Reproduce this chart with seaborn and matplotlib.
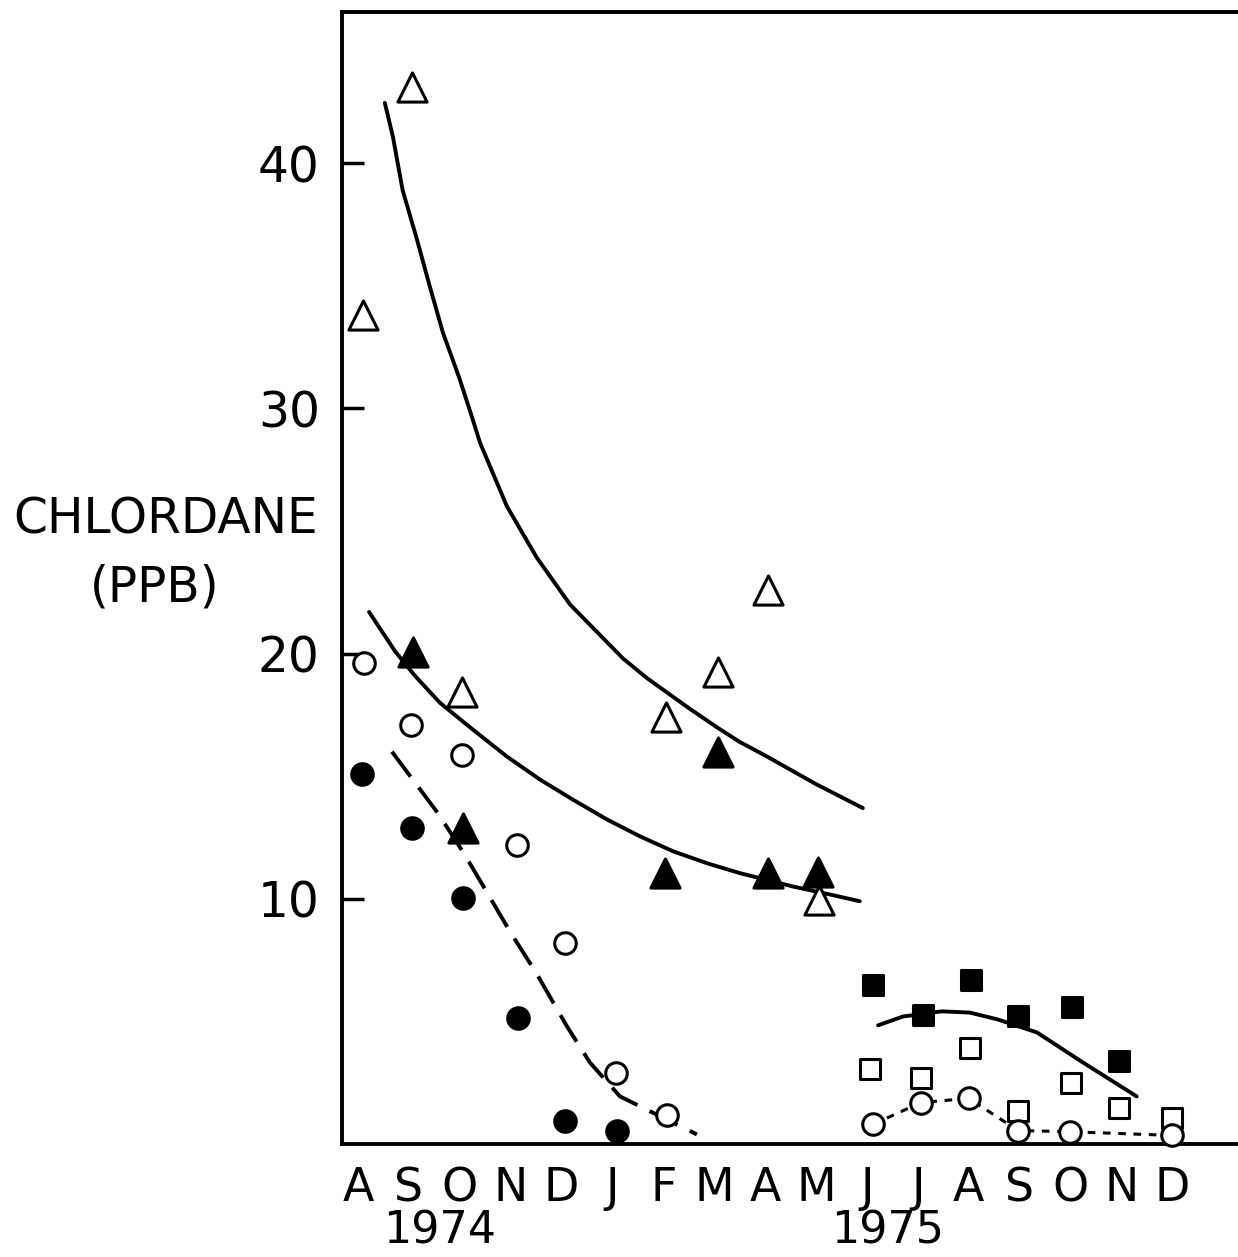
import matplotlib
matplotlib.use("Agg")
import matplotlib.pyplot as plt
import seaborn as sns

# ---- data ------------------------------------------------------------------
months = ["A", "S", "O", "N", "D", "J", "F", "M", "A", "M", "J", "J", "A", "S", "O", "N", "D"]
years = ["1974", "1975"]
year_pos = [1.6, 10.4]
ytick_vals = [10, 20, 30, 40]

# 1974/75 open triangles
otri_x = [0.10, 1.06, 2.04, 6.05, 7.07, 8.06, 9.06]
otri_y = [33.8, 43.1, 18.45, 17.4, 19.25, 22.6, 9.97]
# filled triangles
ftri_x = [1.08, 2.06, 6.03, 7.07, 8.06, 9.04]
ftri_y = [20.07, 12.9, 11.05, 16.0, 11.05, 11.1]
# open circles (1974)
ocir_x = [0.12, 1.04, 2.04, 3.12, 4.07, 5.07, 6.07]
ocir_y = [19.6, 17.1, 15.85, 12.2, 8.2, 2.9, 1.2]
# filled circles (1974)
fcir_x = [0.08, 1.06, 2.06, 3.15, 4.07, 5.09]
fcir_y = [15.1, 12.9, 10.05, 5.15, 0.95, 0.55]
# 1975 filled squares
fsq_x = [10.12, 11.10, 12.04, 12.97, 14.03, 14.95]
fsq_y = [6.5, 5.28, 6.67, 5.24, 5.57, 3.37]
# 1975 open squares
osq_x = [10.06, 11.06, 12.02, 12.97, 14.00, 14.95, 15.99]
osq_y = [3.04, 2.68, 3.93, 1.33, 2.5, 1.46, 1.08]
# 1975 open circles
ocir75_x = [10.12, 11.06, 12.00, 12.97, 13.99, 16.0]
ocir75_y = [0.8, 1.69, 1.86, 0.55, 0.5, 0.35]

# fitted curves
upper_x = [0.53, 0.69, 0.88, 1.16, 1.41, 1.67, 2.00, 2.24, 2.40, 2.93, 3.52, 4.17,
           5.21, 5.68, 6.52, 7.05, 7.50, 8.04, 8.98, 9.92]
upper_y = [42.46, 41.07, 38.9, 36.9, 35.0, 33.1, 31.2, 29.66, 28.6, 26.0, 23.9, 22.0,
           19.8, 19.0, 17.75, 17.0, 16.4, 15.8, 14.7, 13.7]
mid_x = [0.22, 0.73, 1.12, 1.61, 2.26, 2.93, 3.58, 4.22, 4.89, 5.54, 6.19, 6.86,
         7.50, 8.55, 9.33, 9.86]
mid_y = [21.7, 20.1, 19.1, 18.0, 16.9, 15.8, 14.86, 14.05, 13.24, 12.55, 11.94, 11.45,
         11.05, 10.5, 10.15, 9.9]
dash_x = [0.67, 1.57, 2.10, 2.99, 3.52, 4.11, 4.56, 5.15, 5.87, 6.66]
dash_y = [16.0, 13.5, 11.8, 8.66, 6.92, 4.79, 3.32, 1.94, 1.20, 0.39]
sq_x = [10.22, 10.71, 11.47, 12.02, 12.57, 13.34, 14.24, 15.30]
sq_y = [4.84, 5.2, 5.41, 5.36, 5.08, 4.55, 3.33, 1.94]

# ---- figure ----------------------------------------------------------------
sns.set_theme(style="white")
plt.rcParams["font.family"] = ["DejaVu Sans"]

fig = plt.figure(figsize=(12.38, 12.57), dpi=100)
ax = fig.add_axes([0.2763, 0.0899, 0.7237, 0.9006])

LW = 2.8
line_kw = dict(sort=False, estimator=None, color="black", ax=ax)
sns.lineplot(x=upper_x, y=upper_y, lw=LW, solid_joinstyle="round", **line_kw)
sns.lineplot(x=mid_x, y=mid_y, lw=LW, solid_joinstyle="round", **line_kw)
sns.lineplot(x=dash_x, y=dash_y, lw=LW, linestyle=(0, (8, 3.5)), **line_kw)
sns.lineplot(x=sq_x, y=sq_y, lw=LW, solid_joinstyle="round", **line_kw)
sns.lineplot(x=ocir75_x, y=ocir75_y, lw=2.2, linestyle=(0, (2.5, 2.5)), **line_kw)

MEW = 2.2
tri_s, cir_s, sq_s = 21 ** 2, 15.5 ** 2, 15 ** 2
pts = [
    (otri_x, otri_y, "^", tri_s, "white"),
    (ftri_x, ftri_y, "^", tri_s, "black"),
    (ocir_x, ocir_y, "o", cir_s, "white"),
    (fcir_x, fcir_y, "o", cir_s, "black"),
    (fsq_x, fsq_y, "s", sq_s, "black"),
    (osq_x, osq_y, "s", sq_s, "white"),
    (ocir75_x, ocir75_y, "o", cir_s, "white"),
]
for xs, ys, mk, size, face in pts:
    sns.scatterplot(x=xs, y=ys, marker=mk, s=size, color=face, edgecolor="black",
                    linewidth=MEW, ax=ax, zorder=3, clip_on=False)

ax.set_xlim(-0.31, 17.29)
ax.set_ylim(0, 46.17)

for side in ["left", "bottom", "top"]:
    ax.spines[side].set_color("black")
    ax.spines[side].set_linewidth(2.8)
ax.spines["right"].set_visible(False)

ax.set_yticks(ytick_vals)
ax.set_yticklabels([str(v) for v in ytick_vals])
ax.tick_params(axis="y", direction="in", length=16, width=2.5, pad=16,
               labelsize=35, colors="black", left=True)
ax.set_xticks(range(len(months)))
ax.set_xticklabels(months)
ax.tick_params(axis="x", length=0, pad=16, labelsize=33, labelcolor="black")
ax.set_xlabel("")
ax.set_ylabel("")

for lab, pos in zip(years, year_pos):
    ax.text(pos, -0.077, lab, transform=ax.get_xaxis_transform(),
            ha="center", va="center", fontsize=32, color="black")

fig.text(166 / 1238, 1 - 520 / 1257, "CHLORDANE", ha="center", va="center",
         fontsize=35, color="black")
fig.text(155 / 1238, 1 - 588 / 1257, "(PPB)", ha="center", va="center",
         fontsize=35, color="black")

fig.savefig("out.png", dpi=100, facecolor="white")
